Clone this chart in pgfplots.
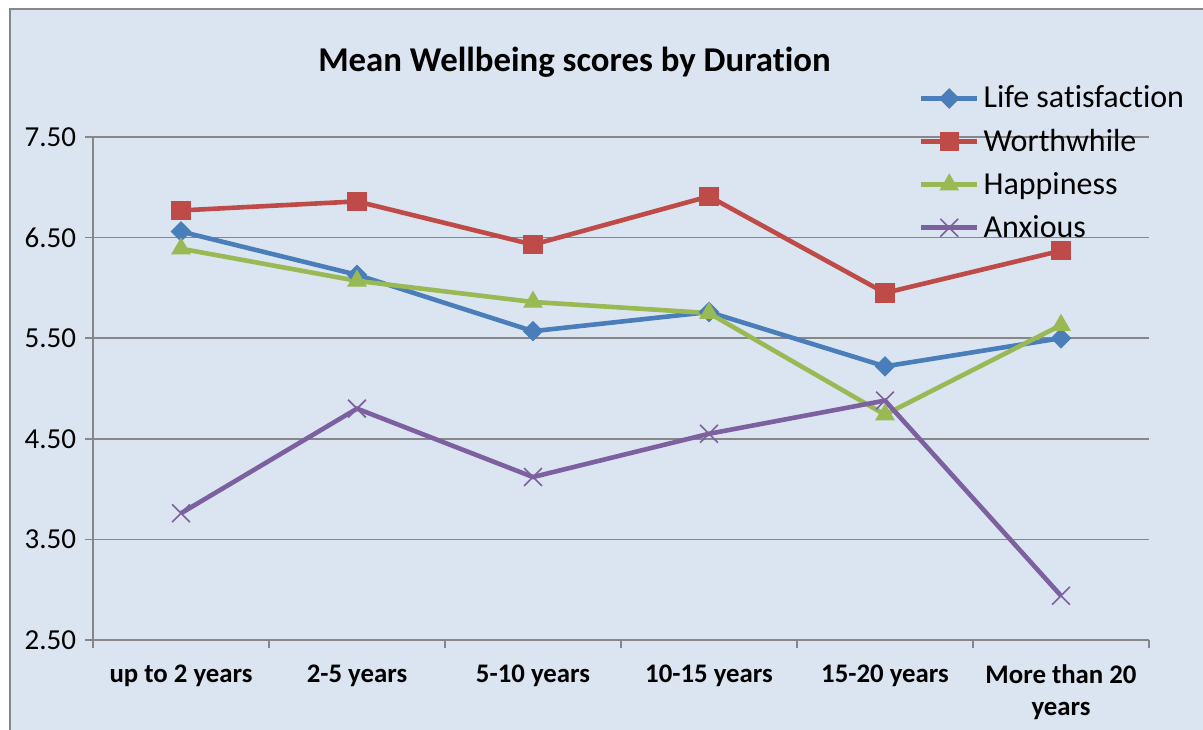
\documentclass[border=0pt]{standalone}
\usepackage{pgfplots}
\pgfplotsset{compat=1.18}
\usepackage{fontspec}
\setmainfont{Carlito}[Ligatures=NoCommon]
\definecolor{LBlue}{HTML}{4A7EBB}
\definecolor{LRed}{HTML}{BE4B48}
\definecolor{LGreen}{HTML}{98B954}
\definecolor{LPurple}{HTML}{7D60A0}
\definecolor{ChartBg}{HTML}{DBE5F1}
\definecolor{GridGray}{HTML}{878787}
\begin{document}
\begin{tikzpicture}
\path[use as bounding box] (-46.5pt,-44.5pt) rectangle (555pt,320pt);
\fill[ChartBg] (-41.5pt,-50pt) rectangle (560pt,315.5pt);
\draw[GridGray,line width=0.8pt] (-41.5pt,-50pt) -- (-41.5pt,315.5pt) -- (560pt,315.5pt);
\begin{axis}[
  at={(0,0)},anchor=south west,
  width=528pt,height=251.5pt,scale only axis,
  xmin=-0.5,xmax=5.5,ymin=2.5,ymax=7.5,
  axis x line*=bottom,axis y line*=left,
  axis line style={GridGray,line width=0.8pt},
  xtick={0,...,5},
  xticklabels={up to 2 years,2-5 years,5-10 years,10-15 years,15-20 years,{More than 20\\years}},
  xticklabel style={font=\fontsize{13.4}{16}\selectfont\bfseries,align=center,yshift=-4pt},
  minor xtick={-0.5,0.5,...,5.5},
  ytick={2.5,3.5,...,7.5},
  yticklabels={2.50,3.50,4.50,5.50,6.50,7.50},
  yticklabel style={font=\fontsize{14.5}{16}\selectfont},
  major x tick style={draw=none},
  tick align=outside,
  major tick length=4pt,minor tick length=4pt,
  tick style={GridGray,line width=0.8pt},
  ymajorgrids,grid style={GridGray,line width=0.8pt},
  clip=false,
  line width=2.3pt,
  legend cell align=left,
  legend style={at={(0.78,1.114)},anchor=north west,draw=none,fill=none,
    font=\fontsize{16}{19}\selectfont,row sep=5pt,inner sep=0pt},
  legend image code/.code={\draw[mark repeat=2,mark phase=2]
    plot coordinates {(0pt,0pt)(14pt,0pt)(28pt,0pt)};},
]
\addplot[LBlue,mark=square*,mark size=3.4pt,mark options={rotate=45,solid,line width=0.5pt}]
  coordinates {(0,6.56)(1,6.13)(2,5.57)(3,5.76)(4,5.22)(5,5.50)};
\addlegendentry{Life satisfaction}
\addplot[LRed,mark=square*,mark size=4.6pt,mark options={solid,line width=0.5pt}]
  coordinates {(0,6.77)(1,6.86)(2,6.43)(3,6.91)(4,5.95)(5,6.37)};
\addlegendentry{Worthwhile}
\addplot[LGreen,mark=triangle*,mark size=5.2pt,mark options={solid,line width=0.5pt}]
  coordinates {(0,6.39)(1,6.07)(2,5.86)(3,5.75)(4,4.74)(5,5.63)};
\addlegendentry{Happiness}
\addplot[LPurple,mark=x,mark size=6.3pt,mark options={solid,line width=0.8pt}]
  coordinates {(0,3.76)(1,4.80)(2,4.12)(3,4.55)(4,4.88)(5,2.94)};
\addlegendentry{Anxious}
\node[font=\fontsize{17.4}{20}\selectfont\bfseries] at (rel axis cs:0.456,1) [yshift=37.5pt] {Mean Wellbeing scores by Duration};
\end{axis}
\end{tikzpicture}
\end{document}
